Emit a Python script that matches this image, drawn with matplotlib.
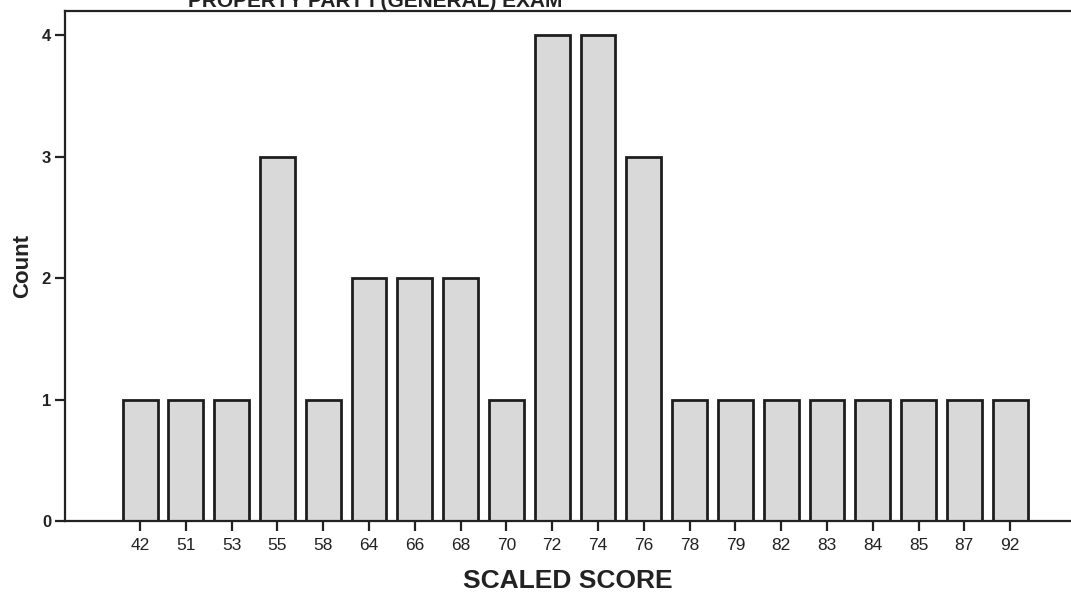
import numpy as np
import matplotlib.pyplot as plt

plt.rcParams['font.family'] = ['Liberation Sans', 'DejaVu Sans']

scores = ['42', '51', '53', '55', '58', '64', '66', '68', '70', '72',
          '74', '76', '78', '79', '82', '83', '84', '85', '87', '92']
counts = [1, 1, 1, 3, 1, 2, 2, 2, 1, 4,
          4, 3, 1, 1, 1, 1, 1, 1, 1, 1]

fig = plt.figure(figsize=(10.71, 5.98), dpi=100)
ax = fig.add_axes([0.0607, 0.1288, 0.9393, 0.8528])

x = np.arange(len(scores))
ax.bar(x, counts, width=0.76, color='#d9d9d9', edgecolor='#1e1e1e',
       linewidth=2.0)

ax.set_xlim(-1.64, 20.33)
ax.set_ylim(0, 4.2)
ax.set_xticks(x)
ax.set_xticklabels(scores, fontsize=12.5, color='#222222')
ax.set_yticks([0, 1, 2, 3, 4])
ax.set_yticklabels(['0', '1', '2', '3', '4'], fontsize=12,
                   fontweight='bold', color='#222222')
ax.tick_params(axis='both', direction='out', length=7, width=1.6,
               color='#222222', pad=3)
ax.tick_params(axis='x', pad=5)

for side in ['left', 'bottom', 'top']:
    ax.spines[side].set_linewidth(1.6)
    ax.spines[side].set_color('#222222')
ax.spines['right'].set_visible(False)

ax.set_xlabel('SCALED SCORE', fontsize=19, fontweight='bold',
              color='#222222', labelpad=12)
ax.set_ylabel('Count', fontsize=16, fontweight='bold', color='#222222',
              labelpad=6)

# title is cut off at the top edge of the scan
fig.text(0.176, 0.989, 'PROPERTY PART I (GENERAL) EXAM', fontsize=15,
         fontweight='bold', color='#222222', va='baseline', ha='left')

fig.savefig('out.png', dpi=100)
